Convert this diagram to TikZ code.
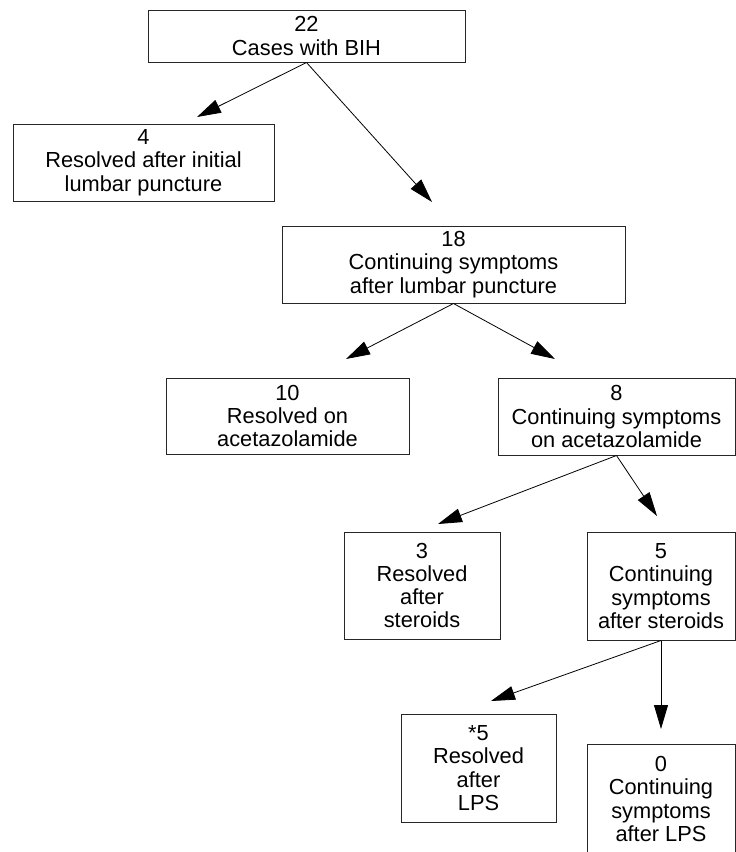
\documentclass[tikz,border=0pt]{standalone}
\usepackage{fontspec}
\setmainfont{Liberation Sans}
\usepackage{tikz}
\usetikzlibrary{positioning, arrows.meta}

\begin{document}
\begin{tikzpicture}[x=1pt, y=-1pt, >={Triangle[length=24pt,width=14pt]}]
	\tikzstyle{box}=[rectangle, draw=black!85, line width=1pt, inner sep=0pt, align=center, font=\fontsize{21.8}{23.3}\selectfont]
	\useasboundingbox (0,0) rectangle (736,852);
	\node[box, minimum width=317, minimum height=52](b1) at (306.5,36) {22\\Cases with BIH};
	\node[box, minimum width=261, minimum height=77](b2) at (143.5,162.5) {4\\Resolved after initial\\lumbar puncture};
	\node[box, minimum width=343, minimum height=77](b3) at (453.5,264.5) {18\\Continuing symptoms\\after lumbar puncture};
	\node[box, minimum width=243, minimum height=76](b4) at (287.5,416) {10\\Resolved on\\acetazolamide};
	\node[box, minimum width=237, minimum height=77](b5) at (616.5,416.5) {8\\Continuing symptoms\\on acetazolamide};
	\node[box, minimum width=156, minimum height=107](b6) at (422,585.5) {3\\Resolved\\after\\steroids};
	\node[box, minimum width=148, minimum height=108](b7) at (661,586) {5\\Continuing\\symptoms\\after steroids};
	\node[box, minimum width=155, minimum height=108](b8) at (478.5,768) {*5\\Resolved\\after\\LPS};
	\node[box, minimum width=148, minimum height=110](b9) at (661,799) {0\\Continuing\\symptoms\\after LPS};
	% arrow tips stop short of the boxes
	\coordinate (t1) at (197,117);
	\coordinate (t2) at (432,202);
	\coordinate (t3) at (346,359);
	\coordinate (t4) at (555,359);
	\coordinate (t5) at (438,524);
	\coordinate (t6) at (657,516);
	\coordinate (t7) at (491,701);
	\coordinate (t8) at (661,729);
	\draw[->, line width=0.8pt](b1.south) -- (t1);
	\draw[->, line width=0.8pt](b1.south) -- (t2);
	\draw[->, line width=0.8pt](b3.south) -- (t3);
	\draw[->, line width=0.8pt](b3.south) -- (t4);
	\draw[->, line width=0.8pt](b5.south) -- (t5);
	\draw[->, line width=0.8pt](b5.south) -- (t6);
	\draw[->, line width=0.8pt](b7.south) -- (t7);
	\draw[->, line width=0.8pt](b7.south) -- (t8);
\end{tikzpicture}
\end{document}
